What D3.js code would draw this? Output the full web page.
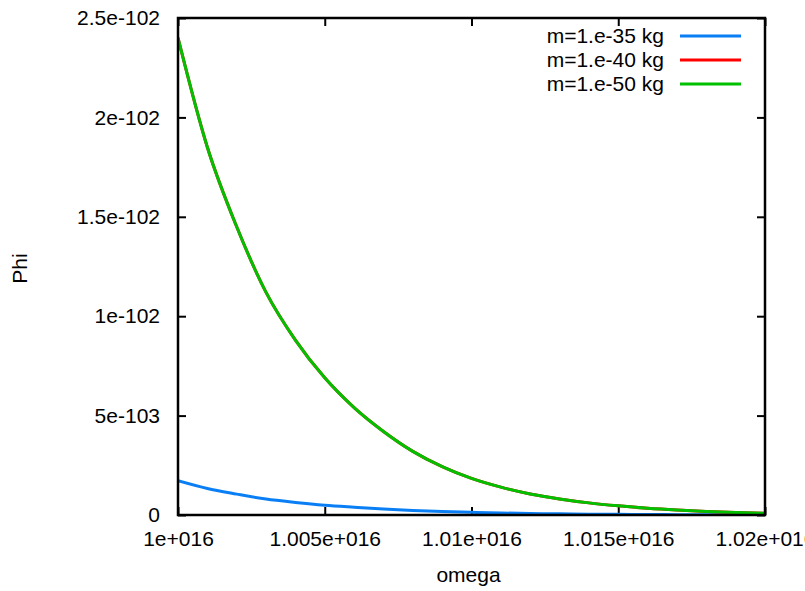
<!DOCTYPE html>
<html>
<head>
<meta charset="utf-8">
<script src="https://cdn.jsdelivr.net/npm/d3@7"></script>
<style>
  body { margin: 0; background: #fff; }
  svg text { font-family: "Liberation Sans", Arial, sans-serif; font-size: 21px; fill: #000; }
</style>
</head>
<body>
<svg width="805" height="591"></svg>
<script>
// omega samples (units of 1e16)
const omega = [1.000, 1.001, 1.002, 1.003, 1.004, 1.005, 1.006, 1.007, 1.008, 1.009, 1.010,
               1.011, 1.012, 1.013, 1.014, 1.015, 1.016, 1.017, 1.018, 1.019, 1.020];

// Phi values (units of 1e-102)
const phi35 = [0.172, 0.133, 0.105, 0.080, 0.063, 0.049, 0.039, 0.030, 0.023, 0.0175, 0.0133,
               0.010, 0.0077, 0.0058, 0.0044, 0.0033, 0.0025, 0.0018, 0.0013, 0.0009, 0.0007];
const phi40 = [2.40, 1.85, 1.45, 1.12, 0.88, 0.69, 0.54, 0.42, 0.32, 0.243, 0.184,
               0.140, 0.106, 0.081, 0.061, 0.046, 0.034, 0.025, 0.018, 0.013, 0.009];
const phi50 = [2.40, 1.85, 1.45, 1.12, 0.88, 0.69, 0.54, 0.42, 0.32, 0.243, 0.184,
               0.140, 0.106, 0.081, 0.061, 0.046, 0.034, 0.025, 0.018, 0.013, 0.009];

const seriesNames = ['m=1.e-35 kg', 'm=1.e-40 kg', 'm=1.e-50 kg'];
const seriesColors = ['#0a7ff5', '#ff0000', '#00c000'];

const xTicks = [1.000, 1.005, 1.010, 1.015, 1.020];
const xTickLabels = ['1e+016', '1.005e+016', '1.01e+016', '1.015e+016', '1.02e+016'];
const yTicks = [0, 0.5, 1.0, 1.5, 2.0, 2.5];
const yTickLabels = ['0', '5e-103', '1e-102', '1.5e-102', '2e-102', '2.5e-102'];

const svg = d3.select('svg');
const margin = { left: 178, right: 40, top: 18, bottom: 76 };
const width = +svg.attr('width') - margin.left - margin.right;
const height = +svg.attr('height') - margin.top - margin.bottom;

const x = d3.scaleLinear().domain([1.000, 1.020]).range([0, width]);
const y = d3.scaleLinear().domain([0, 2.5]).range([height, 0]);

const g = svg.append('g')
    .attr('transform', `translate(${margin.left}, ${margin.top})`);

const defs = svg.append('defs');
defs.append('clipPath').attr('id', 'plot-clip')
  .append('rect').attr('width', width).attr('height', height);

// ticks, mirrored on all four sides
const tickLen = 8;
const yAxisL = d3.axisLeft(y).tickValues(yTicks).tickSizeInner(-tickLen).tickSizeOuter(0)
    .tickFormat((d, i) => yTickLabels[i]).tickPadding(18);
const yAxisR = d3.axisRight(y).tickValues(yTicks).tickSizeInner(-tickLen).tickSizeOuter(0)
    .tickFormat('');
const xAxisB = d3.axisBottom(x).tickValues(xTicks).tickSizeInner(-tickLen).tickSizeOuter(0)
    .tickFormat((d, i) => xTickLabels[i]).tickPadding(16);
const xAxisT = d3.axisTop(x).tickValues(xTicks).tickSizeInner(-tickLen).tickSizeOuter(0)
    .tickFormat('');

function styleAxis(sel) {
  sel.select('.domain').remove();
  sel.selectAll('line').attr('stroke', '#000').attr('stroke-width', 2);
  sel.selectAll('text').attr('font-size', 21).attr('font-family', '"Liberation Sans", Arial, sans-serif');
}

g.append('g').call(yAxisL).call(styleAxis);
g.append('g').attr('transform', `translate(${width}, 0)`).call(yAxisR).call(styleAxis);
g.append('g').attr('transform', `translate(0, ${height})`).call(xAxisB).call(styleAxis);
g.append('g').call(xAxisT).call(styleAxis);

// curves
const allSeries = [phi35, phi40, phi50];
const line = d3.line()
    .x((d, i) => x(omega[i]))
    .y(d => y(d))
    .curve(d3.curveMonotoneX);

g.append('g').attr('clip-path', 'url(#plot-clip)')
  .selectAll('path')
  .data(allSeries)
  .join('path')
    .attr('d', line)
    .attr('fill', 'none')
    .attr('stroke', (d, i) => seriesColors[i])
    .attr('stroke-width', 3);

// frame
g.append('rect')
    .attr('width', width)
    .attr('height', height)
    .attr('fill', 'none')
    .attr('stroke', '#000')
    .attr('stroke-width', 2.5);

// legend
const legend = g.append('g');
seriesNames.forEach((name, i) => {
  const ly = 18 + i * 24;
  legend.append('text')
      .attr('x', 664 - margin.left)
      .attr('y', ly)
      .attr('dy', '0.35em')
      .attr('text-anchor', 'end')
      .text(name);
  legend.append('line')
      .attr('x1', 680 - margin.left)
      .attr('x2', 741 - margin.left)
      .attr('y1', ly)
      .attr('y2', ly)
      .attr('stroke', seriesColors[i])
      .attr('stroke-width', 3);
});

// axis titles
svg.append('text')
    .attr('x', margin.left + width / 2 - 3)
    .attr('y', 582)
    .attr('text-anchor', 'middle')
    .text('omega');

svg.append('text')
    .attr('transform', `translate(27, ${margin.top + height / 2 + 2}) rotate(-90)`)
    .attr('text-anchor', 'middle')
    .text('Phi');
</script>
</body>
</html>
